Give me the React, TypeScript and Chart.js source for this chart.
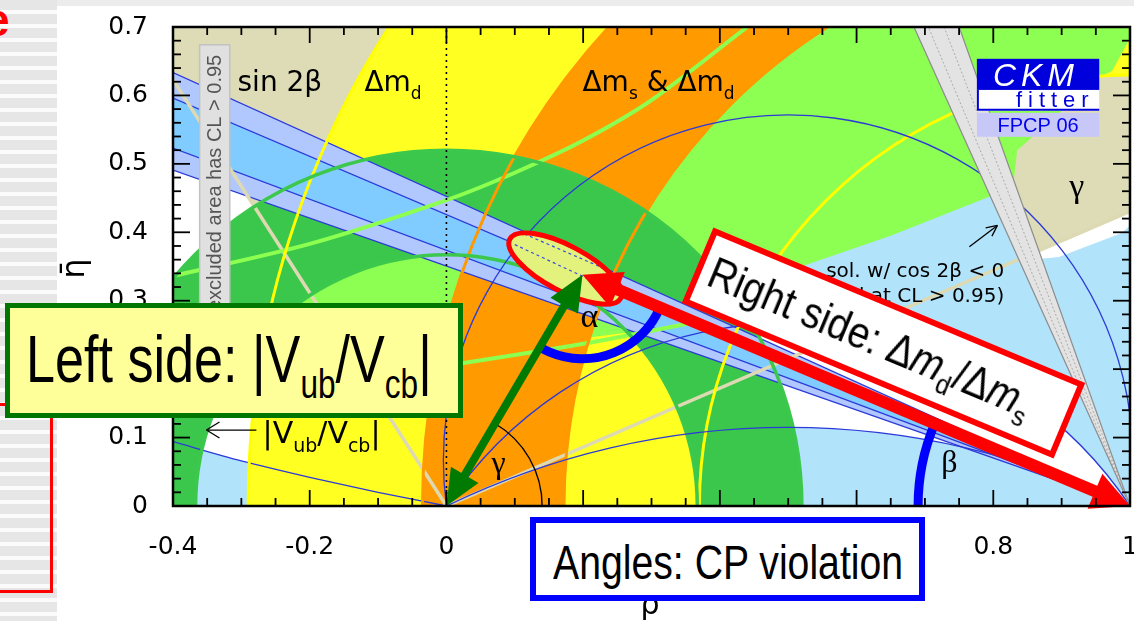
import React, { useEffect, useRef } from "react";
import { Chart, registerables } from "chart.js";

Chart.register(...registerables);

// ---------------- values (rho-bar, eta-bar plane) ----------------
const xTickValues = [-0.4, -0.2, 0, 0.2, 0.4, 0.6, 0.8, 1];
const xTickLabels = ["-0.4", "-0.2", "0", "0.2", "0.4", "0.6", "0.8", "1"];
const yTickValues = [0, 0.1, 0.2, 0.3, 0.4, 0.5, 0.6, 0.7];
const yTickLabels = ["0", "0.1", "0.2", "0.3", "0.4", "0.5", "0.6", "0.7"];
const xRange = [-0.4, 1];
const yRange = [0, 0.7];

const apex = [0.199, 0.338];
const dmdRadii = [0.63, 1.29]; // Δm_d band, around (1,0)
const dmsRadii = [0.828, 1.035]; // Δm_s & Δm_d band, around (1,0)
const vubRadii = [0.367, 0.52]; // |Vub/Vcb| ring, around (0,0)
const gammaLineEnds = [
  [1.0, 0.4307],
  [-0.4, 0.623],
];
const sin2bOuterEta = [0.6335, 0.491]; // eta at rho=-0.4, lines through (1,0)
const sin2bInnerEta = [0.596, 0.523];
const cos2bTopRho = [0.684, 0.75]; // rho at eta=0.7, lines through (1,0)
const cos2bInnerRho = [0.705, 0.728];
const alphaCircleCentres = [0.067, -0.334, -1.03]; // eta of centre (rho=0.5) of circles through (0,0),(1,0)
const alphaLensCentres = [-0.334, -1.03];
const alphaLeftArc = [
  [-0.4, 0.094],
  [-0.3, 0.066],
  [-0.2, 0.042],
  [-0.1, 0.02],
  [0, 0],
];
const alphaRegionRight = [
  [0.37, 0],
  [1.0, 0],
  [1.0, 0.41],
  [0.988, 0.399],
  [0.896, 0.364],
  [0.855, 0.36],
  [0.83, 0.46],
  [0.794, 0.455],
  [0.65, 0.4],
  [0.516, 0.352],
  [0.42, 0.3],
  [0.38, 0.1],
];
const alphaRegionLeft = [
  [-0.4, 0],
  [0, 0],
  [-0.1, 0.02],
  [-0.2, 0.042],
  [-0.3, 0.066],
  [-0.4, 0.094],
];
const epsKRegion = [
  [0.52, 0.75],
  [0.44, 0.7],
  [0.3, 0.593],
  [0.2, 0.534],
  [0.1, 0.487],
  [0, 0.447],
  [-0.2, 0.383],
  [-0.45, 0.325],
  [-0.45, 0.18],
  [-0.2, 0.205],
  [0, 0.228],
  [0.2, 0.245],
  [0.3, 0.258],
  [0.4, 0.29],
  [0.516, 0.349],
  [0.65, 0.395],
  [0.794, 0.452],
  [0.83, 0.475],
  [0.835, 0.52],
  [0.955, 0.626],
  [0.974, 0.636],
  [1.02, 0.72],
  [1.02, 0.75],
];
const epsKUpperLine = [
  [-0.4, 0.336],
  [-0.2, 0.383],
  [0, 0.447],
  [0.1, 0.487],
  [0.2, 0.534],
  [0.3, 0.593],
  [0.44, 0.7],
];
const epsKLowerLine = [
  [-0.4, 0.15],
  [-0.2, 0.175],
  [0, 0.205],
  [0.2, 0.237],
  [0.37, 0.27],
];
const fitCentre = [0.174, 0.347];
const fitSemiAxes = [0.092, 0.033];
const fitTiltDeg = [28];
const fitInnerLines = [
  [
    [0.09, 0.408],
    [0.27, 0.33],
  ],
  [
    [0.1, 0.382],
    [0.25, 0.312],
  ],
];
const alphaArcRadius = [0.123];
const betaArcRadius = [0.31];
const gammaArcRadius = [0.14];

// ---------------- styles ----------------
const C = {
  tan: "#dddcb6",
  alpha: "#b1e3fa",
  yellow: "#ffff22",
  lgreen: "#8dfe52",
  orange: "#ff9a00",
  green: "#3ac74b",
  sOuter: "#b0c8fe",
  sInner: "#80cbff",
  blueLine: "#2c3ad8",
  gray: "#e3e3e3",
};
const SANS = '"DejaVu Sans", sans-serif';
const SERIF = '"Liberation Serif", serif';
const LIB = '"Liberation Sans", Arial, sans-serif';

function mapper(chart: any) {
  const xs = chart.scales.x;
  const ys = chart.scales.y;
  const x = (v: number) => xs.getPixelForValue(v);
  const y = (v: number) => ys.getPixelForValue(v);
  return { x, y, sx: x(1) - x(0), sy: y(0) - y(1) };
}

function polyPath(ctx: any, m: any, pts: number[][]) {
  ctx.beginPath();
  pts.forEach((p, i) => {
    const X = m.x(p[0]);
    const Y = m.y(p[1]);
    if (i) ctx.lineTo(X, Y);
    else ctx.moveTo(X, Y);
  });
  ctx.closePath();
}
function fillPoly(ctx: any, m: any, pts: number[][], color: string) {
  polyPath(ctx, m, pts);
  ctx.fillStyle = color;
  ctx.fill();
}
function annulus(ctx: any, m: any, cx: number, cy: number, radii: number[], color: string) {
  const X = m.x(cx);
  const Y = m.y(cy);
  ctx.beginPath();
  ctx.ellipse(X, Y, radii[1] * m.sx, radii[1] * m.sy, 0, 0, Math.PI * 2);
  ctx.moveTo(X + radii[0] * m.sx, Y);
  ctx.ellipse(X, Y, radii[0] * m.sx, radii[0] * m.sy, 0, 0, Math.PI * 2);
  ctx.fillStyle = color;
  ctx.fill("evenodd");
}
function strokeCircle(ctx: any, m: any, cx: number, cy: number, r: number, color: string, lw: number) {
  ctx.beginPath();
  ctx.ellipse(m.x(cx), m.y(cy), r * m.sx, r * m.sy, 0, 0, Math.PI * 2);
  ctx.strokeStyle = color;
  ctx.lineWidth = lw;
  ctx.stroke();
}
// arc of the circle through (0,0) and (1,0) whose centre is (0.5, c)
function alphaArcPath(ctx: any, m: any, c: number, rightToLeft: boolean) {
  const R = Math.hypot(0.5, c);
  const tR = Math.atan2(-c, 0.5);
  const tL = Math.atan2(-c, -0.5);
  if (rightToLeft) ctx.ellipse(m.x(0.5), m.y(c), R * m.sx, R * m.sy, 0, -tR, -tL, true);
  else ctx.ellipse(m.x(0.5), m.y(c), R * m.sx, R * m.sy, 0, -tL, -tR, false);
}
function line(ctx: any, x0: number, y0: number, x1: number, y1: number) {
  ctx.beginPath();
  ctx.moveTo(x0, y0);
  ctx.lineTo(x1, y1);
  ctx.stroke();
}
function head(ctx: any, tx: number, ty: number, fx: number, fy: number, len: number, half: number) {
  const a = Math.atan2(ty - fy, tx - fx);
  const c = Math.cos(a);
  const s = Math.sin(a);
  const bx = tx - len * c;
  const by = ty - len * s;
  ctx.beginPath();
  ctx.moveTo(tx, ty);
  ctx.lineTo(bx - half * s, by + half * c);
  ctx.lineTo(bx + half * s, by - half * c);
  ctx.closePath();
  ctx.fill();
}
function doubleArrow(ctx: any, x0: number, y0: number, x1: number, y1: number, lw: number, len: number, half: number, color: string) {
  const a = Math.atan2(y1 - y0, x1 - x0);
  const c = Math.cos(a);
  const s = Math.sin(a);
  ctx.strokeStyle = color;
  ctx.fillStyle = color;
  ctx.lineWidth = lw;
  ctx.lineCap = "butt";
  line(ctx, x0 + len * 0.8 * c, y0 + len * 0.8 * s, x1 - len * 0.8 * c, y1 - len * 0.8 * s);
  head(ctx, x0, y0, x1, y1, len, half);
  head(ctx, x1, y1, x0, y0, len, half);
}
function richText(ctx: any, x: number, y: number, parts: string[][], size: number, family: string, align = "left", color = "#000") {
  const fontFor = (k: string) => `${k === "it" ? "italic " : ""}${k === "sub" ? Math.round(size * 0.62) : size}px ${family}`;
  let w = 0;
  parts.forEach(([t, k]) => {
    ctx.font = fontFor(k);
    w += ctx.measureText(t).width;
  });
  let cx = align === "right" ? x - w : align === "center" ? x - w / 2 : x;
  ctx.fillStyle = color;
  ctx.textAlign = "left";
  ctx.textBaseline = "alphabetic";
  parts.forEach(([t, k]) => {
    ctx.font = fontFor(k);
    ctx.fillText(t, cx, y + (k === "sub" ? size * 0.3 : 0));
    cx += ctx.measureText(t).width;
  });
}
function spacedText(ctx: any, text: string, x: number, y: number, gap: number) {
  let cx = x;
  for (const ch of text) {
    ctx.fillText(ch, cx, y);
    cx += ctx.measureText(ch).width + gap;
  }
}

// text labels placed in data coordinates
const plotLabels = [
  { parts: [["sin 2β", ""]], at: [-0.3056, 0.607], size: 28, family: SANS, align: "left" },
  { parts: [["Δm", ""], ["d", "sub"]], at: [-0.12, 0.607], size: 28, family: SANS, align: "left" },
  { parts: [["Δm", ""], ["s", "sub"], [" & Δm", ""], ["d", "sub"]], at: [0.199, 0.607], size: 28, family: SANS, align: "left" },
  { parts: [["sol. w/ cos 2β < 0", ""]], at: [0.816, 0.335], size: 20, family: SANS, align: "right" },
  { parts: [["(excluded at CL > 0.95)", ""]], at: [0.816, 0.298], size: 20, family: SANS, align: "right" },
  { parts: [["|V", ""], ["ub", "sub"], ["/V", ""], ["cb", "sub"], ["|", ""]], at: [-0.269, 0.092], size: 30, family: SANS, align: "left" },
  { parts: [["γ", ""]], at: [0.911, 0.452], size: 34, family: SERIF, align: "left" },
  { parts: [["α", ""]], at: [0.196, 0.262], size: 34, family: SERIF, align: "left" },
  { parts: [["β", ""]], at: [0.724, 0.05], size: 32, family: SERIF, align: "left" },
  { parts: [["γ", ""]], at: [0.066, 0.048], size: 32, family: SERIF, align: "left" },
];

const ckmPlugin = {
  id: "ckmPlugin",
  beforeDatasetsDraw(chart: any) {
    const ctx = chart.ctx;
    const m = mapper(chart);
    const a = chart.chartArea;
    ctx.save();
    ctx.beginPath();
    ctx.rect(a.left, a.top, a.right - a.left, a.bottom - a.top);
    ctx.clip();
    // γ wedge
    fillPoly(
      ctx,
      m,
      [[0, 0], gammaLineEnds[0], [xRange[1] + 0.1, yRange[1] + 0.1], [xRange[0] - 0.1, yRange[1] + 0.1], gammaLineEnds[1]],
      C.tan
    );
    // α regions
    fillPoly(ctx, m, alphaRegionRight, C.alpha);
    fillPoly(ctx, m, alphaRegionLeft, C.alpha);
    ctx.beginPath();
    alphaArcPath(ctx, m, alphaLensCentres[0], true);
    alphaArcPath(ctx, m, alphaLensCentres[1], false);
    ctx.closePath();
    ctx.fillStyle = "#ffffff";
    ctx.fill();
    // Δm_d
    annulus(ctx, m, 1, 0, dmdRadii, C.yellow);
    // εK
    fillPoly(ctx, m, epsKRegion, C.lgreen);
    // Δm_s & Δm_d
    annulus(ctx, m, 1, 0, dmsRadii, C.orange);
    // |Vub/Vcb|
    annulus(ctx, m, 0, 0, vubRadii, C.green);
    // sin 2β
    fillPoly(ctx, m, [[xRange[0], sin2bOuterEta[0]], [1, 0], [xRange[0], sin2bOuterEta[1]]], C.sOuter);
    fillPoly(ctx, m, [[xRange[0], sin2bInnerEta[0]], [1, 0], [xRange[0], sin2bInnerEta[1]]], C.sInner);
    ctx.restore();
  },
  afterDatasetsDraw(chart: any) {
    const ctx = chart.ctx;
    const m = mapper(chart);
    const a = chart.chartArea;
    ctx.save();
    ctx.beginPath();
    ctx.rect(a.left, a.top, a.right - a.left, a.bottom - a.top);
    ctx.clip();
    // contour circles
    dmdRadii.forEach((r) => strokeCircle(ctx, m, 1, 0, r, "#ffff00", 3));
    dmsRadii.forEach((r) => strokeCircle(ctx, m, 1, 0, r, "#ff9900", 3));
    vubRadii.forEach((r) => strokeCircle(ctx, m, 0, 0, r, "#3cc84c", 3.5));
    // α contours
    ctx.strokeStyle = C.blueLine;
    ctx.lineWidth = 1.3;
    alphaCircleCentres.forEach((c) => {
      ctx.beginPath();
      alphaArcPath(ctx, m, c, true);
      ctx.stroke();
    });
    // dotted ρ=0 line
    ctx.strokeStyle = "#000";
    ctx.lineWidth = 1.6;
    ctx.setLineDash([2, 4]);
    line(ctx, m.x(0), m.y(0), m.x(0), m.y(yRange[1]));
    ctx.setLineDash([]);
    // cos 2β < 0 band
    fillPoly(ctx, m, [[cos2bTopRho[0], yRange[1]], [cos2bTopRho[1], yRange[1]], [1, 0]], C.gray);
    ctx.strokeStyle = "#8c8c8c";
    ctx.lineWidth = 1.2;
    cos2bTopRho.forEach((r) => line(ctx, m.x(1), m.y(0), m.x(r), m.y(yRange[1])));
    ctx.strokeStyle = "#ababab";
    ctx.lineWidth = 1;
    ctx.setLineDash([2, 2]);
    cos2bInnerRho.forEach((r) => line(ctx, m.x(1), m.y(0), m.x(r), m.y(yRange[1])));
    ctx.setLineDash([]);
    // fit region
    const rot = (fitTiltDeg[0] * Math.PI) / 180;
    ctx.beginPath();
    ctx.ellipse(m.x(fitCentre[0]), m.y(fitCentre[1]), fitSemiAxes[0] * m.sx, fitSemiAxes[1] * m.sy, rot, 0, Math.PI * 2);
    ctx.fillStyle = "#e3f27c";
    ctx.fill();
    ctx.save();
    ctx.clip();
    ctx.strokeStyle = "#3a4ae0";
    ctx.lineWidth = 1.2;
    ctx.setLineDash([3, 3]);
    fitInnerLines.forEach(([p, q]) => line(ctx, m.x(p[0]), m.y(p[1]), m.x(q[0]), m.y(q[1])));
    ctx.restore();
    ctx.beginPath();
    ctx.ellipse(m.x(fitCentre[0]), m.y(fitCentre[1]), fitSemiAxes[0] * m.sx, fitSemiAxes[1] * m.sy, rot, 0, Math.PI * 2);
    ctx.strokeStyle = "#ff0000";
    ctx.lineWidth = 5;
    ctx.stroke();

    const ax = m.x(apex[0]);
    const ay = m.y(apex[1]);
    const ox = m.x(0);
    const oy = m.y(0);
    const ex = m.x(1);
    // γ arc
    ctx.strokeStyle = "#000";
    ctx.lineWidth = 1.4;
    ctx.beginPath();
    ctx.arc(ox, oy, gammaArcRadius[0] * m.sx, Math.atan2(ay - oy, ax - ox), 0, false);
    ctx.stroke();
    // α arc
    ctx.strokeStyle = "#0000ff";
    ctx.lineWidth = 9;
    ctx.beginPath();
    ctx.arc(ax, ay, alphaArcRadius[0] * m.sx, Math.atan2(oy - ay, ex - ax), Math.atan2(oy - ay, ox - ax), false);
    ctx.stroke();
    // β arc
    ctx.beginPath();
    ctx.arc(ex, oy, betaArcRadius[0] * m.sx, Math.atan2(ay - oy, ax - ex), Math.PI, true);
    ctx.stroke();

    // labels
    plotLabels.forEach((l) => richText(ctx, m.x(l.at[0]), m.y(l.at[1]), l.parts, l.size, l.family, l.align));
    // small arrows
    ctx.strokeStyle = "#000";
    ctx.fillStyle = "#000";
    ctx.lineWidth = 1.3;
    const s0 = [m.x(0.765), m.y(0.379)];
    const s1 = [m.x(0.806), m.y(0.41)];
    line(ctx, s0[0], s0[1], s1[0], s1[1]);
    {
      const an = Math.atan2(s1[1] - s0[1], s1[0] - s0[0]);
      line(ctx, s1[0], s1[1], s1[0] - 12 * Math.cos(an - 0.45), s1[1] - 12 * Math.sin(an - 0.45));
      line(ctx, s1[0], s1[1], s1[0] - 12 * Math.cos(an + 0.45), s1[1] - 12 * Math.sin(an + 0.45));
    }
    const v0 = [m.x(-0.278), m.y(0.111)];
    const v1 = [m.x(-0.351), m.y(0.111)];
    line(ctx, v0[0], v0[1], v1[0], v1[1]);
    line(ctx, v1[0], v1[1], v1[0] + 13, v1[1] - 8);
    line(ctx, v1[0], v1[1], v1[0] + 13, v1[1] + 8);

    // "excluded area" box
    const bx0 = m.x(-0.361);
    const bx1 = m.x(-0.317);
    const by0 = m.y(0.674);
    ctx.fillStyle = "#e0e0e0";
    ctx.fillRect(bx0, by0, bx1 - bx0, m.y(0.25) - by0);
    ctx.strokeStyle = "#c2c2c2";
    ctx.lineWidth = 1.5;
    ctx.strokeRect(bx0, by0, bx1 - bx0, m.y(0.25) - by0);
    ctx.save();
    ctx.translate((bx0 + bx1) / 2 + 1, by0 + 10);
    ctx.rotate(-Math.PI / 2);
    ctx.font = `20px ${LIB}`;
    ctx.fillStyle = "#555";
    ctx.textAlign = "right";
    ctx.textBaseline = "middle";
    ctx.fillText("excluded area has CL > 0.95", 0, 0);
    ctx.restore();

    // CKMfitter logo
    const L = m.x(0.776);
    const R = m.x(0.955);
    const ly = [m.y(0.6535), m.y(0.608), m.y(0.5775), m.y(0.5746), m.y(0.5395)];
    ctx.fillStyle = "#0000dd";
    ctx.fillRect(L, ly[0], R - L, ly[1] - ly[0]);
    ctx.fillStyle = "#ffffff";
    ctx.fillRect(L, ly[1], R - L, ly[2] - ly[1]);
    ctx.strokeStyle = "#0000dd";
    ctx.lineWidth = 2;
    ctx.beginPath();
    ctx.moveTo(L + 1, ly[1]);
    ctx.lineTo(L + 1, ly[2] - 1);
    ctx.lineTo(R, ly[2] - 1);
    ctx.stroke();
    ctx.fillStyle = "#c8c8f8";
    ctx.fillRect(L, ly[3], R - L, ly[4] - ly[3]);
    ctx.textAlign = "left";
    ctx.textBaseline = "alphabetic";
    ctx.fillStyle = "#ffffff";
    ctx.font = `italic 32px ${LIB}`;
    spacedText(ctx, "CKM", L + 16, ly[1] - 4, 5);
    ctx.fillStyle = "#0000dd";
    ctx.font = `22px ${LIB}`;
    spacedText(ctx, "fitter", L + 39, ly[2] - 4, 6);
    ctx.fillStyle = "#0000ee";
    ctx.font = `20px ${LIB}`;
    ctx.textAlign = "center";
    ctx.fillText("FPCP 06", (L + R) / 2, ly[4] - 5);
    ctx.restore();

    // arrows of the triangle (slide overlay)
    doubleArrow(ctx, ox, oy, ax, ay, 8, 36, 16, "#007a00");
    doubleArrow(ctx, ax, ay, ex, oy, 12, 38, 19, "#ff0000");

    // ticks and frame
    ctx.save();
    ctx.strokeStyle = "#000";
    ctx.lineWidth = 1.8;
    const nx = Math.round((xRange[1] - xRange[0]) / 0.05);
    for (let i = 0; i <= nx; i++) {
      const X = m.x(xRange[0] + i * 0.05);
      const len = i % 4 === 0 ? 16 : 8;
      line(ctx, X, a.bottom, X, a.bottom - len);
      line(ctx, X, a.top, X, a.top + len);
    }
    const ny = Math.round((yRange[1] - yRange[0]) / 0.02);
    for (let i = 0; i <= ny; i++) {
      const Y = m.y(yRange[0] + i * 0.02);
      const len = i % 5 === 0 ? 17 : 8;
      line(ctx, a.left, Y, a.left + len, Y);
      line(ctx, a.right, Y, a.right - len, Y);
    }
    ctx.lineWidth = 2.5;
    ctx.strokeRect(a.left, a.top, a.right - a.left, a.bottom - a.top);
    // axis titles
    ctx.fillStyle = "#000";
    ctx.font = `32px ${SANS}`;
    ctx.textAlign = "center";
    ctx.textBaseline = "middle";
    ctx.save();
    ctx.translate(a.left - 97, (a.top + a.bottom) / 2 + 2);
    ctx.rotate(-Math.PI / 2);
    ctx.fillText("η̄", 0, 0);
    ctx.restore();
    ctx.textBaseline = "alphabetic";
    ctx.font = `30px ${SANS}`;
    ctx.fillText("ρ̄", m.x(0.298), a.bottom + 108);
    ctx.restore();
  },
};

function lineSet(pts: number[][], color: string, width: number, tension = 0) {
  return {
    data: pts.map(([x, y]) => ({ x, y })),
    showLine: true,
    borderColor: color,
    borderWidth: width,
    pointRadius: 0,
    fill: false,
    tension,
    clip: 0,
  };
}

function makeConfig() {
  const datasets = [
    lineSet(epsKUpperLine, "#8cff50", 4, 0.3),
    lineSet(epsKLowerLine, "#8cff50", 4, 0.3),
    ...gammaLineEnds.map((p) => lineSet([[0, 0], p], "#ddd9b2", 3.5)),
    lineSet(alphaLeftArc, C.blueLine, 1.3, 0.3),
    ...[...sin2bOuterEta, ...sin2bInnerEta].map((e) => lineSet([[xRange[0], e], [1, 0]], C.blueLine, 1.3)),
  ];
  return {
    type: "scatter",
    data: { datasets },
    options: {
      responsive: false,
      animation: false,
      devicePixelRatio: 1,
      events: [],
      layout: { padding: { left: 0, right: 4, top: 27, bottom: 0 } },
      plugins: { legend: { display: false }, tooltip: { enabled: false } },
      scales: {
        x: {
          type: "linear",
          min: xRange[0],
          max: xRange[1],
          grid: { display: false },
          border: { display: false },
          afterBuildTicks: (s: any) => {
            s.ticks = xTickValues.map((v) => ({ value: v }));
          },
          ticks: {
            autoSkip: false,
            maxRotation: 0,
            padding: 18,
            color: "#000",
            font: { family: "DejaVu Sans", size: 25 },
            callback: (_v: any, i: number) => xTickLabels[i],
          },
          afterFit: (s: any) => {
            s.height = 115;
            s.paddingLeft = 0;
            s.paddingRight = 0;
          },
        },
        y: {
          type: "linear",
          min: yRange[0],
          max: yRange[1],
          grid: { display: false },
          border: { display: false },
          afterBuildTicks: (s: any) => {
            s.ticks = yTickValues.map((v) => ({ value: v }));
          },
          ticks: {
            autoSkip: false,
            padding: 17,
            color: "#000",
            font: { family: "DejaVu Sans", size: 25 },
            callback: (_v: any, i: number) => yTickLabels[i],
          },
          afterFit: (s: any) => {
            s.width = 173;
            s.paddingTop = 0;
            s.paddingBottom = 0;
          },
        },
      },
    },
    plugins: [ckmPlugin],
  };
}

const boxText: any = { fontFamily: LIB, whiteSpace: "nowrap", color: "#000", position: "absolute", transformOrigin: "0 0" };
const sub = (size: number, drop: number): any => ({ fontSize: size, position: "relative", top: drop, lineHeight: 1 });

export default function App() {
  const ref = useRef<HTMLCanvasElement | null>(null);
  useEffect(() => {
    const chart = new Chart(ref.current as HTMLCanvasElement, makeConfig() as any);
    return () => chart.destroy();
  }, []);
  return (
    <div style={{ position: "absolute", left: 0, top: 0, width: 1134, height: 621, overflow: "hidden", background: "#fff" }}>
      <div
        style={{
          position: "absolute",
          left: 0,
          top: 0,
          width: 57,
          height: 621,
          background: "repeating-linear-gradient(to bottom, #e6e6e6 0px, #e6e6e6 10px, #fbfbfb 10px, #fbfbfb 14px)",
        }}
      />
      <div style={{ position: "absolute", left: 57, top: 0, width: 1077, height: 6, background: "#ececec" }} />
      <div style={{ position: "absolute", left: -16, top: -3, fontFamily: LIB, fontWeight: "bold", fontSize: 46, lineHeight: "46px", color: "#ff0000" }}>e</div>
      <div style={{ position: "absolute", left: -10, top: 403, width: 63, height: 190, boxSizing: "border-box", border: "3px solid #ff0000" }} />
      <canvas ref={ref} width={1134} height={621} style={{ position: "absolute", left: 0, top: 0 }} />
      <div
        style={{
          position: "absolute",
          left: 5,
          top: 303,
          width: 458,
          height: 115,
          boxSizing: "border-box",
          border: "5px solid #007700",
          background: "#ffff99",
        }}
      >
        <div style={{ ...boxText, left: 16, top: 18, fontSize: 66, lineHeight: "66px", transform: "scaleX(0.79)" }}>
          Left side: |V<span style={sub(40, 16)}>ub</span>/V<span style={sub(40, 16)}>cb</span>|
        </div>
      </div>
      <div
        style={{
          position: "absolute",
          left: 682,
          top: 302,
          width: 403,
          height: 82,
          boxSizing: "border-box",
          border: "6px solid #ff0000",
          background: "#ffffff",
          transform: "rotate(22.7deg)",
          transformOrigin: "50% 50%",
        }}
      >
        <div style={{ ...boxText, left: 8, top: 13, fontSize: 44, lineHeight: "44px", transform: "scaleX(0.88)" }}>
          Right side: Δ<i>m</i>
          <span style={sub(28, 10)}>d</span>/Δ<i>m</i>
          <span style={sub(28, 10)}>s</span>
        </div>
      </div>
      <div
        style={{
          position: "absolute",
          left: 530,
          top: 517,
          width: 395,
          height: 84,
          boxSizing: "border-box",
          border: "6px solid #0000ff",
          background: "#ffffff",
        }}
      >
        <div style={{ ...boxText, left: 17, top: 15, fontSize: 49, lineHeight: "49px", transform: "scaleX(0.8)" }}>Angles: CP violation</div>
      </div>
    </div>
  );
}
